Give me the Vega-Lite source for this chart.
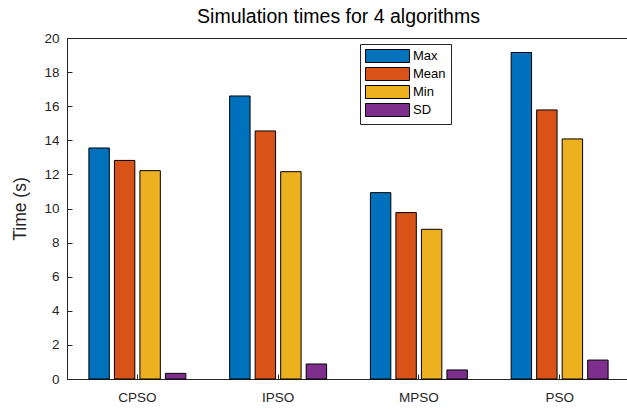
{
  "$schema": "https://vega.github.io/schema/vega-lite/v6.json",
  "autosize": "none",
  "padding": {"left": 67, "top": 38, "right": 0, "bottom": 30},
  "width": 563,
  "height": 341,
  "background": "white",
  "config": {
    "font": "Liberation Sans",
    "view": {"stroke": "#262626", "strokeWidth": 1},
    "axis": {
      "grid": false,
      "domainColor": "#262626",
      "tickColor": "#262626",
      "labelColor": "#262626",
      "titleColor": "#262626",
      "domainWidth": 1,
      "tickWidth": 1
    }
  },
  "title": {
    "text": "Simulation times for 4 algorithms",
    "fontSize": 19.5,
    "fontWeight": "normal",
    "color": "#000000",
    "anchor": "middle",
    "frame": "group",
    "dx": -10,
    "offset": 4
  },
  "data": {
    "values": [
      {"algorithm": "CPSO", "stat": "Max", "time": 13.55},
      {"algorithm": "CPSO", "stat": "Mean", "time": 12.82},
      {"algorithm": "CPSO", "stat": "Min", "time": 12.22},
      {"algorithm": "CPSO", "stat": "SD", "time": 0.33},
      {"algorithm": "IPSO", "stat": "Max", "time": 16.6},
      {"algorithm": "IPSO", "stat": "Mean", "time": 14.55},
      {"algorithm": "IPSO", "stat": "Min", "time": 12.16},
      {"algorithm": "IPSO", "stat": "SD", "time": 0.88},
      {"algorithm": "MPSO", "stat": "Max", "time": 10.93},
      {"algorithm": "MPSO", "stat": "Mean", "time": 9.76},
      {"algorithm": "MPSO", "stat": "Min", "time": 8.78},
      {"algorithm": "MPSO", "stat": "SD", "time": 0.53},
      {"algorithm": "PSO", "stat": "Max", "time": 19.15},
      {"algorithm": "PSO", "stat": "Mean", "time": 15.78},
      {"algorithm": "PSO", "stat": "Min", "time": 14.08},
      {"algorithm": "PSO", "stat": "SD", "time": 1.11}
    ]
  },
  "mark": {"type": "bar", "stroke": "#000000", "strokeWidth": 1},
  "encoding": {
    "x": {
      "field": "algorithm",
      "type": "nominal",
      "sort": ["CPSO", "IPSO", "MPSO", "PSO"],
      "scale": {"paddingInner": 0.275, "paddingOuter": 0.1375},
      "axis": {
        "orient": "bottom",
        "title": null,
        "labelAngle": 0,
        "labelFontSize": 13.5,
        "labelPadding": 16,
        "tickSize": -5
      }
    },
    "xOffset": {
      "field": "stat",
      "type": "nominal",
      "sort": ["Max", "Mean", "Min", "SD"],
      "scale": {"paddingInner": 0.2, "paddingOuter": 0.1}
    },
    "y": {
      "field": "time",
      "type": "quantitative",
      "scale": {"domain": [0, 20], "nice": false},
      "axis": {
        "orient": "left",
        "values": [0, 2, 4, 6, 8, 10, 12, 14, 16, 18, 20],
        "labelOverlap": false,
        "labelFlush": false,
        "labelFontSize": 13.5,
        "labelPadding": 13,
        "tickSize": -5,
        "title": "Time (s)",
        "titleFontSize": 17.5,
        "titleFontWeight": "normal",
        "titlePadding": 14
      }
    },
    "color": {
      "field": "stat",
      "type": "nominal",
      "sort": ["Max", "Mean", "Min", "SD"],
      "scale": {
        "domain": ["Max", "Mean", "Min", "SD"],
        "range": ["#0072BD", "#D95319", "#EDB120", "#7E2F8E"]
      },
      "legend": {
        "title": null,
        "orient": "none",
        "legendX": 293,
        "legendY": 6,
        "padding": 5,
        "strokeColor": "#262626",
        "fillColor": "white",
        "symbolType": "M-1,-1H5.77V1H-1Z",
        "symbolSize": 169,
        "symbolStrokeColor": "#000000",
        "symbolStrokeWidth": 1,
        "symbolOpacity": 1,
        "labelFontSize": 13,
        "labelColor": "#000000",
        "labelOffset": 34,
        "rowPadding": 0
      }
    }
  }
}
